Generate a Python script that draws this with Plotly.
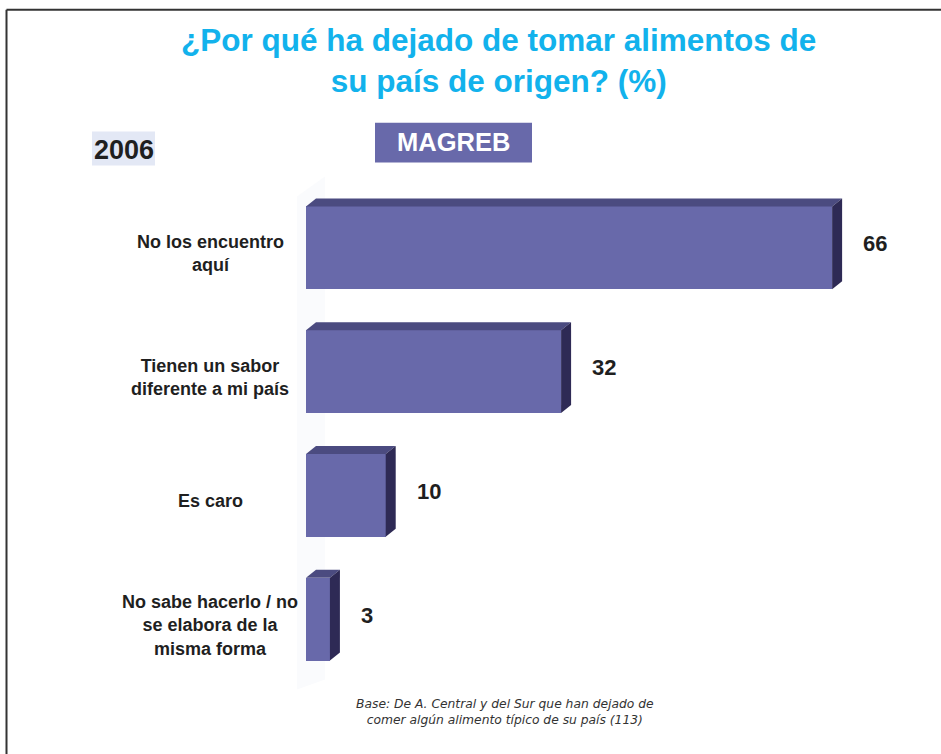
import plotly.graph_objects as go

# Survey results (%), Magreb respondents, 2006
categories = [
    "No los encuentro<br>aquí",
    "Tienen un sabor<br>diferente a mi país",
    "Es caro",
    "No sabe hacerlo / no<br>se elabora de la<br>misma forma",
]
values = [66, 32, 10, 3]

title_text = "¿Por qué ha dejado de tomar alimentos de<br>su país de origen? (%)"
year_label = "2006"
group_label = "MAGREB"
footnote = ("Base: De A. Central y del Sur que han dejado de<br>"
            "comer algún alimento típico de su país (113)")

W, H = 941, 754
ML, MR, MT, MB = 306, 77, 185.5, 72.5
X_MAX = 70
BAR_W = 0.67

FRONT = "#6869AA"
TOP = "#4B4B80"
SIDE = "#2E2A55"
TEXT = "#1f1f1f"
FONT = "Liberation Sans, Arial, sans-serif"

plot_w = W - ML - MR
plot_h = H - MT - MB
px_per_x = plot_w / X_MAX
px_per_cat = plot_h / len(categories)
depth_x = 10 / px_per_x      # 3D depth, horizontal part (data units)
depth_y = 8 / px_per_cat     # 3D depth, vertical part (category units)


def px_to_paper_x(px):
    return (px - ML) / plot_w


def px_to_paper_y(py):
    return 1 - (py - MT) / plot_h


ypos = list(range(len(categories)))

fig = go.Figure()
fig.add_trace(go.Bar(
    x=values, y=ypos, orientation="h", width=BAR_W,
    marker=dict(color=FRONT, line=dict(width=0)),
    hoverinfo="x", showlegend=False,
))

shapes = []
# faint back wall of the 3D chart area
shapes.append(dict(
    type="path", xref="paper", yref="paper", layer="below",
    path=(f"M {px_to_paper_x(297)},{px_to_paper_y(690)} "
          f"L {px_to_paper_x(297)},{px_to_paper_y(196)} "
          f"L {px_to_paper_x(325)},{px_to_paper_y(176)} "
          f"L {px_to_paper_x(325)},{px_to_paper_y(680)} Z"),
    fillcolor="#FAFBFD", line=dict(width=0),
))

# top and side faces of each bar, derived from its value
h = BAR_W / 2
for c, v in zip(ypos, values):
    y_top = c - h
    y_bot = c + h
    shapes.append(dict(
        type="path", xref="x", yref="y", layer="above",
        path=(f"M 0,{y_top} L {depth_x},{y_top - depth_y} "
              f"L {v + depth_x},{y_top - depth_y} L {v},{y_top} Z"),
        fillcolor=TOP, line=dict(width=0),
    ))
    shapes.append(dict(
        type="path", xref="x", yref="y", layer="above",
        path=(f"M {v},{y_top} L {v + depth_x},{y_top - depth_y} "
              f"L {v + depth_x},{y_bot - depth_y} L {v},{y_bot} Z"),
        fillcolor=SIDE, line=dict(width=0),
    ))

# frame lines (top and left)
shapes.append(dict(type="line", xref="paper", yref="paper",
                   x0=px_to_paper_x(6.5), x1=px_to_paper_x(945),
                   y0=px_to_paper_y(9), y1=px_to_paper_y(9),
                   line=dict(color="#333333", width=2)))
shapes.append(dict(type="line", xref="paper", yref="paper",
                   x0=px_to_paper_x(6.5), x1=px_to_paper_x(6.5),
                   y0=px_to_paper_y(9), y1=px_to_paper_y(760),
                   line=dict(color="#333333", width=2)))

# header boxes
shapes.append(dict(type="rect", xref="paper", yref="paper",
                   x0=px_to_paper_x(92), x1=px_to_paper_x(155),
                   y0=px_to_paper_y(165), y1=px_to_paper_y(131),
                   fillcolor="#E3E8F5", line=dict(width=0)))
shapes.append(dict(type="rect", xref="paper", yref="paper",
                   x0=px_to_paper_x(375), x1=px_to_paper_x(532),
                   y0=px_to_paper_y(162), y1=px_to_paper_y(122),
                   fillcolor=FRONT, line=dict(width=0)))

annotations = []
# category labels, centred in the left margin
for c, label in zip(ypos, categories):
    annotations.append(dict(
        x=px_to_paper_x(210), xref="paper", y=c, yref="y",
        text=f"<b>{label}</b>", showarrow=False, align="center",
        xanchor="center", yanchor="middle", yshift=-6,
        font=dict(family=FONT, size=18, color=TEXT),
    ))
# value labels
for c, v in zip(ypos, values):
    annotations.append(dict(
        x=v, xref="x", y=c, yref="y", text=f"<b>{v}</b>",
        showarrow=False, xanchor="left", yanchor="middle",
        xshift=29, yshift=4,
        font=dict(family=FONT, size=22, color=TEXT),
    ))

annotations += [
    dict(x=px_to_paper_x(498), y=px_to_paper_y(60), xref="paper", yref="paper",
         text=f"<b>{title_text}</b>", showarrow=False, align="center",
         xanchor="center", yanchor="middle",
         font=dict(family=FONT, size=31.5, color="#12B2EC")),
    dict(x=px_to_paper_x(123.5), y=px_to_paper_y(149), xref="paper", yref="paper",
         text=f"<b>{year_label}</b>", showarrow=False,
         xanchor="center", yanchor="middle",
         font=dict(family=FONT, size=27, color=TEXT)),
    dict(x=px_to_paper_x(453.5), y=px_to_paper_y(141), xref="paper", yref="paper",
         text=f"<b>{group_label}</b>", showarrow=False,
         xanchor="center", yanchor="middle",
         font=dict(family=FONT, size=25.5, color="white")),
    dict(x=px_to_paper_x(505), y=px_to_paper_y(713), xref="paper", yref="paper",
         text=f"<i>{footnote}</i>", showarrow=False, align="center",
         xanchor="center", yanchor="middle",
         font=dict(family="DejaVu Sans, sans-serif", size=12.3, color="#333333")),
]

fig.update_layout(
    width=W, height=H,
    margin=dict(l=ML, r=MR, t=MT, b=MB, pad=0),
    paper_bgcolor="white", plot_bgcolor="rgba(0,0,0,0)",
    xaxis=dict(range=[0, X_MAX], visible=False, fixedrange=True),
    yaxis=dict(range=[len(categories) - 0.5, -0.5], visible=False,
               fixedrange=True),
    shapes=shapes, annotations=annotations,
    bargap=0, showlegend=False,
)

fig.write_html("out.html", config={"displayModeBar": False})
